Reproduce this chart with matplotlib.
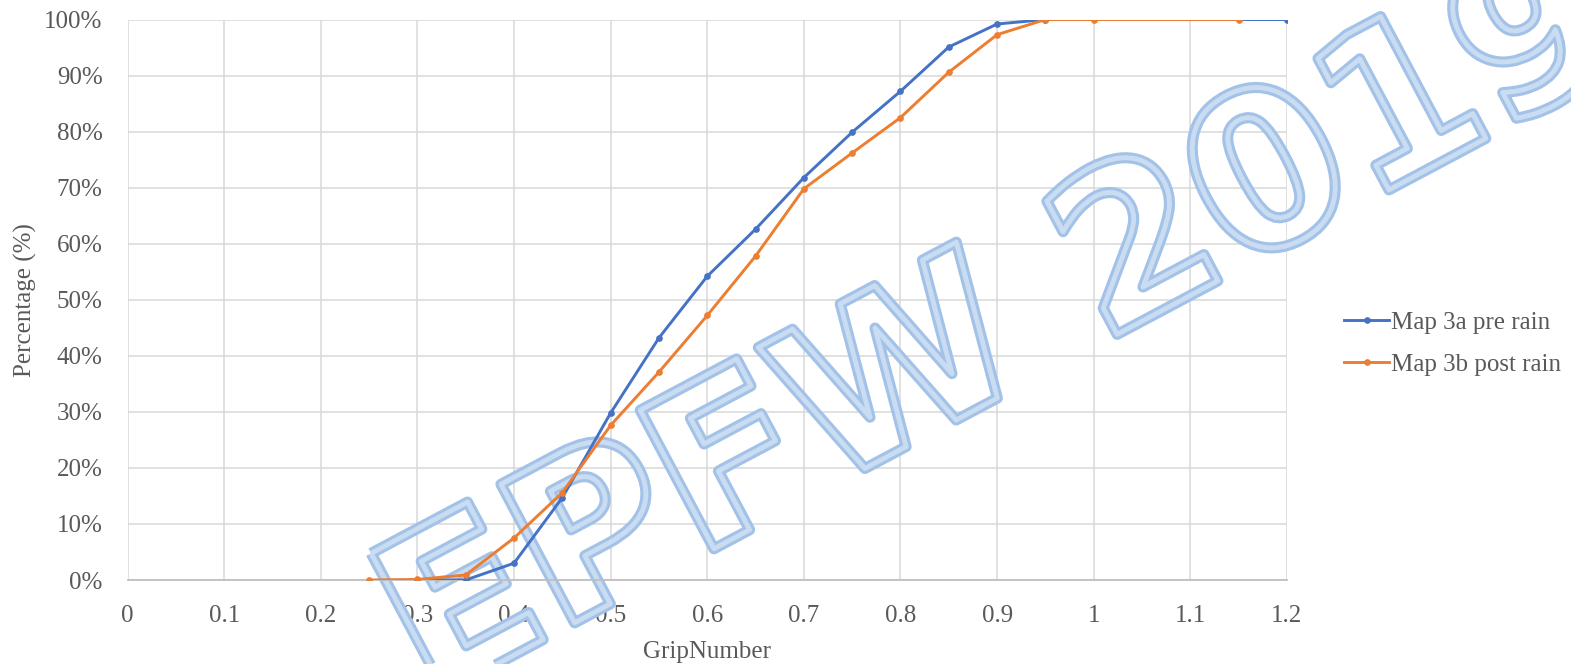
import matplotlib
matplotlib.use("Agg")
from matplotlib import pyplot as plt
from matplotlib import patheffects as pe
from matplotlib.ticker import PercentFormatter, MultipleLocator

# data
grip_pre = [0.30, 0.35, 0.40, 0.45, 0.50, 0.55, 0.60, 0.65, 0.70, 0.75, 0.80, 0.85, 0.90, 0.95, 1.20]
pct_pre = [0.0, 0.0, 3.0, 14.7, 29.8, 43.2, 54.2, 62.6, 71.8, 79.9, 87.2, 95.1, 99.2, 100.0, 100.0]

grip_post = [0.25, 0.30, 0.35, 0.40, 0.45, 0.50, 0.55, 0.60, 0.65, 0.70, 0.75, 0.80, 0.85, 0.90, 0.95, 1.00, 1.15]
pct_post = [0.0, 0.1, 0.9, 7.5, 15.6, 27.6, 37.1, 47.2, 57.8, 69.8, 76.2, 82.5, 90.6, 97.3, 100.0, 100.0, 100.0]

x_ticks = [0.0, 0.1, 0.2, 0.3, 0.4, 0.5, 0.6, 0.7, 0.8, 0.9, 1.0, 1.1, 1.2]
x_tick_labels = ["0", "0.1", "0.2", "0.3", "0.4", "0.5", "0.6", "0.7", "0.8", "0.9", "1", "1.1", "1.2"]

labels = ["Map 3a pre rain", "Map 3b post rain"]
colors = ["#4472C4", "#ED7D31"]
text_grey = "#595959"

plt.rcParams["font.family"] = ["Liberation Serif", "DejaVu Serif"]
plt.rcParams["font.size"] = 18

fig = plt.figure(figsize=(15.71, 6.64), dpi=100)
ax = fig.add_axes([0.0812, 0.1265, 0.7380, 0.8441])

ax.plot(grip_pre, pct_pre, color=colors[0], lw=2.1, marker="o", ms=3.8,
        label=labels[0], zorder=3)
ax.plot(grip_post, pct_post, color=colors[1], lw=2.1, marker="o", ms=3.8,
        label=labels[1], zorder=3)

ax.set_xlim(0, 1.2)
ax.set_ylim(0, 100)
ax.yaxis.set_major_locator(MultipleLocator(10))
ax.yaxis.set_major_formatter(PercentFormatter(decimals=0))
ax.set_xticks(x_ticks)
ax.set_xticklabels(x_tick_labels)

ax.grid(True, color="#d9d9d9", lw=1.1)
ax.set_axisbelow(True)
for side in ["top", "right", "left"]:
    ax.spines[side].set_visible(False)
ax.spines["bottom"].set_color("#bfbfbf")
ax.spines["bottom"].set_linewidth(1.3)
ax.tick_params(length=0, colors=text_grey, labelsize=18)
ax.tick_params(axis="y", pad=18)
ax.tick_params(axis="x", pad=18)

ax.set_xlabel("GripNumber", color=text_grey, fontsize=18, labelpad=10)
ax.set_ylabel("Percentage (%)", color=text_grey, fontsize=18, labelpad=5)

leg = fig.legend(loc="center left", bbox_to_anchor=(0.8415, 0.482), frameon=False,
                 handlelength=1.8, handletextpad=0.05, labelspacing=0.78,
                 fontsize=18)
for t in leg.get_texts():
    t.set_color(text_grey)

# watermark, drawn between the grid and the lines
ax.text(0.272, -0.056, "EPFW 2019", transform=fig.transFigure, clip_on=False,
        fontsize=155, fontweight="bold", family="DejaVu Sans", color="none",
        rotation=28, rotation_mode="anchor", ha="left", va="baseline", zorder=2.5,
        path_effects=[pe.Stroke(linewidth=8, foreground="#a3c2e8"),
                      pe.Stroke(linewidth=3.5, foreground="#cadcf2")])

fig.savefig("out.png", dpi=100)
